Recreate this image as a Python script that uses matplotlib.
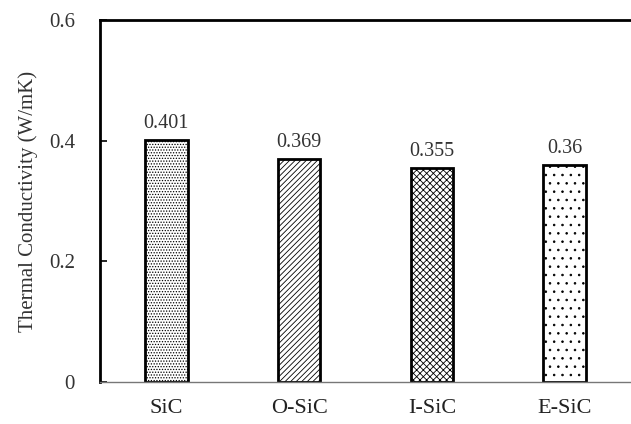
import numpy as np
import matplotlib.pyplot as plt

# datos
categorias = ["SiC", "O-SiC", "I-SiC", "E-SiC"]
conductividad = [0.401, 0.369, 0.355, 0.36]
etiquetas = ["0.401", "0.369", "0.355", "0.36"]
tramas = ["......", "//////", "xxxxx", ".."]

plt.rcParams["font.family"] = ["Liberation Serif", "DejaVu Serif"]
plt.rcParams["hatch.linewidth"] = 0.6
plt.rcParams["hatch.color"] = "#444444"

fig = plt.figure(figsize=(6.31, 4.24), dpi=100)
ax = fig.add_axes([100/631, 42/424, 531/631, 362/424])

x = np.arange(len(categorias))
barras = ax.bar(x, conductividad, width=0.32, color="white",
                edgecolor="black", linewidth=2.0)
for b, h in zip(barras, tramas):
    b.set_hatch(h)

for xi, v, t in zip(x, conductividad, etiquetas):
    ax.text(xi, v + 0.012, t, ha="center", va="bottom", fontsize=14.5, color="#333333")

ax.set_xlim(-0.5, 3.5)
ax.set_ylim(0, 0.6)
ax.set_yticks([0, 0.2, 0.4, 0.6])
ax.set_yticklabels(["0", "0.2", "0.4", "0.6"])
ax.set_xticks(x)
ax.set_xticklabels(categorias)
ax.tick_params(axis="y", direction="in", length=5, width=1.2, labelsize=15,
               labelcolor="#333333", pad=18)
ax.tick_params(axis="x", length=0, labelsize=16, labelcolor="#222222", pad=12)

ax.spines["left"].set_linewidth(2.0)
ax.spines["top"].set_linewidth(2.0)
ax.spines["right"].set_visible(False)
ax.spines["bottom"].set_linewidth(1.0)
ax.spines["bottom"].set_color("#777777")

ax.set_ylabel("Thermal Conductivity (W/mK)", fontsize=15, color="#333333", labelpad=8)

plt.savefig("out.png", dpi=100)
